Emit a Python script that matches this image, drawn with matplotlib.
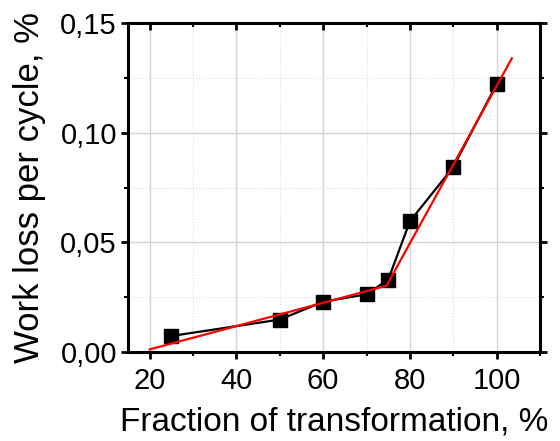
import matplotlib
matplotlib.use("Agg")
import matplotlib.pyplot as plt
from matplotlib.ticker import MultipleLocator, FixedLocator, FixedFormatter

plt.rcParams['font.family'] = ['Liberation Sans', 'DejaVu Sans']

# Data
frac = [25, 50, 60, 70, 75, 80, 90, 100]
work_loss = [0.0073, 0.0148, 0.0229, 0.0263, 0.0330, 0.0596, 0.0843, 0.1222]

fit_x = [20, 74.6, 103.5]
fit_y = [0.0012, 0.0302, 0.1339]

xticks = [20, 40, 60, 80, 100]
xtick_labels = ["20", "40", "60", "80", "100"]
yticks = [0.00, 0.05, 0.10, 0.15]
ytick_labels = ["0,00", "0,05", "0,10", "0,15"]

fig = plt.figure(figsize=(5.6, 4.41), dpi=100)
ax = fig.add_axes([0.2286, 0.2018, 0.7357, 0.7460])

ax.plot(frac, work_loss, color='black', lw=1.6, marker='s', ms=9.5,
        markerfacecolor='black', markeredgecolor='black', zorder=3)
ax.plot(fit_x, fit_y, color='#ff0000', lw=1.6, zorder=4)

ax.set_xlim(15, 110)
ax.set_ylim(0, 0.15)

ax.xaxis.set_major_locator(FixedLocator(xticks))
ax.xaxis.set_major_formatter(FixedFormatter(xtick_labels))
ax.xaxis.set_minor_locator(MultipleLocator(10))
ax.yaxis.set_major_locator(FixedLocator(yticks))
ax.yaxis.set_major_formatter(FixedFormatter(ytick_labels))
ax.yaxis.set_minor_locator(MultipleLocator(0.025))

ax.grid(which='major', color='#d4d4d4', lw=1.0, ls='-')
ax.grid(which='minor', color='#dcdcdc', lw=0.8, ls=':')
ax.set_axisbelow(True)

for s in ax.spines.values():
    s.set_linewidth(2.2)

ax.tick_params(which='major', length=5, width=2, labelsize=21)
ax.tick_params(axis='x', which='major', pad=6)
ax.tick_params(axis='y', which='major', pad=3)
ax.tick_params(which='minor', length=3, width=1.5)
ax.tick_params(axis='both', which='both', top=True, right=True, direction='out')
# top/right inward ticks
for t in ax.xaxis.get_major_ticks() + ax.xaxis.get_minor_ticks():
    t.tick2line.set_marker(3)
for t in ax.yaxis.get_major_ticks() + ax.yaxis.get_minor_ticks():
    t.tick2line.set_marker(1)

ax.set_xlabel("Fraction of transformation, %", fontsize=24, labelpad=8)
ax.set_ylabel("Work loss per cycle, %", fontsize=25, labelpad=10)

fig.savefig("out.png", dpi=100)
